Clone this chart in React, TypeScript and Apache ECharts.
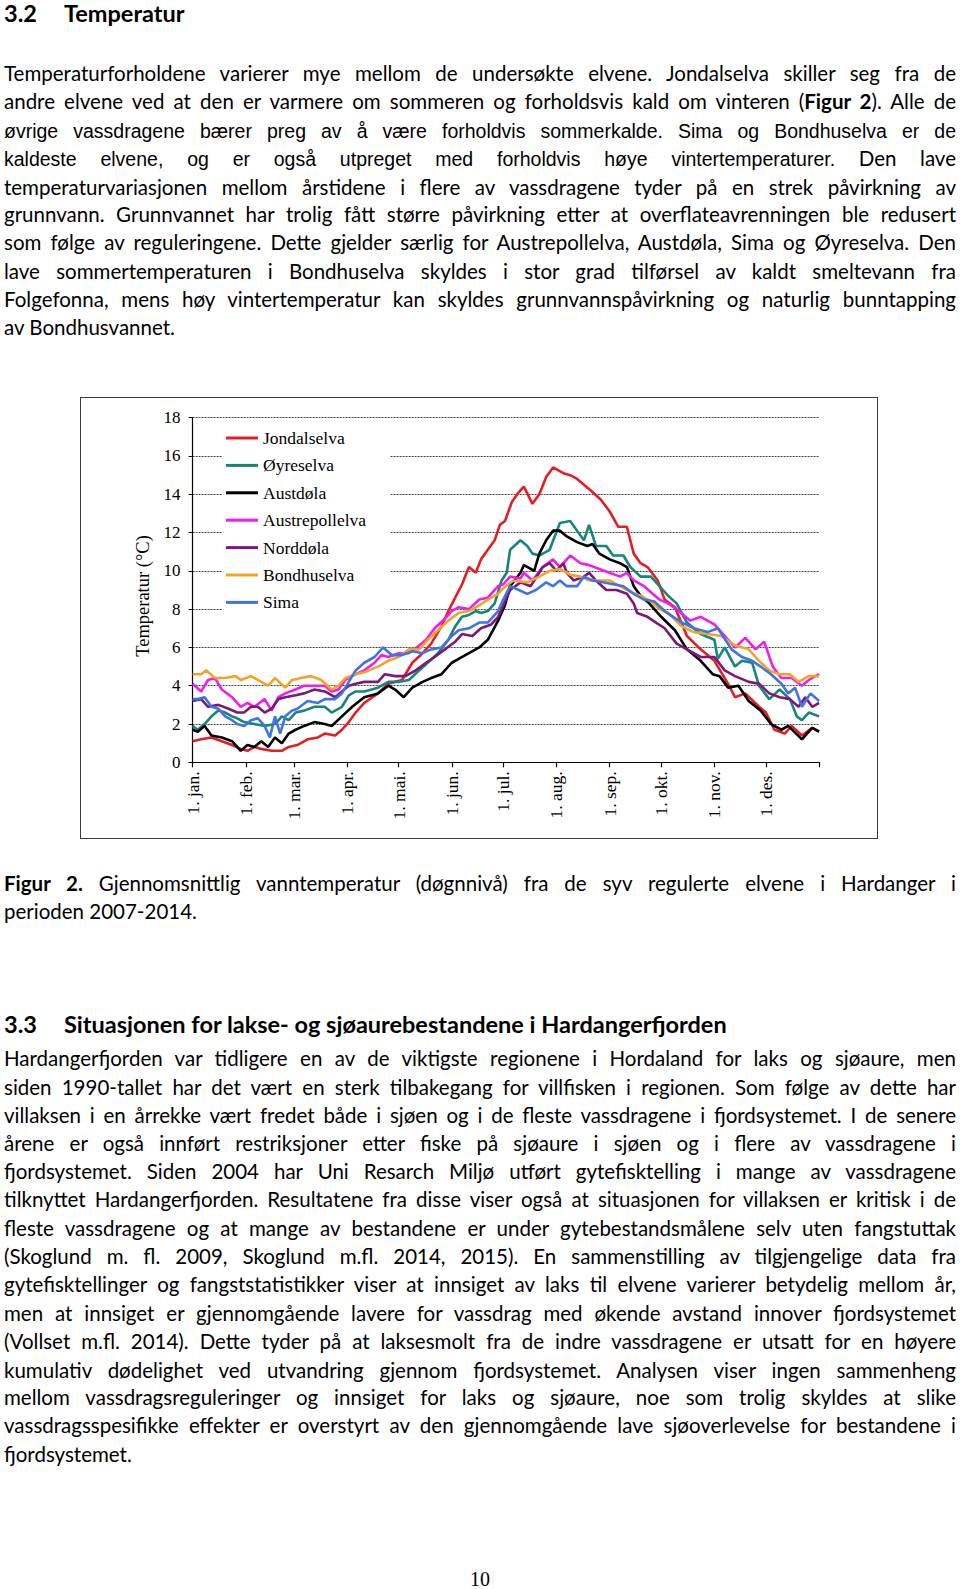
import React, { useEffect, useRef } from "react";
import * as echarts from "echarts";

type P = [number, number];

const seriesNames = ["Jondalselva", "Øyreselva", "Austdøla", "Austrepollelva", "Norddøla", "Bondhuselva", "Sima"];
const seriesColors = ["#E31E24", "#16857A", "#000000", "#F01CF0", "#7D177D", "#F5A323", "#3F73E6"];

const jondalselva: P[] = [[0,1.1],[5,1.2],[11,1.3],[17,1.1],[23,0.9],[28,0.7],[32,0.6],[36,0.8],[40,0.7],[46,0.6],[52,0.6],[56,0.8],[61,0.9],[67,1.2],[73,1.3],[77,1.5],[83,1.4],[87,1.7],[91,2.1],[95,2.6],[100,3.1],[108,3.6],[114,4.1],[122,4.3],[128,5.2],[134,5.7],[139,6.2],[145,7.1],[149,7.9],[153,8.6],[157,9.3],[161,10.2],[165,9.9],[168,10.6],[172,11.1],[176,11.6],[179,12.4],[182,12.6],[186,13.6],[190,14.1],[193,14.4],[198,13.5],[202,14.0],[206,14.9],[210,15.4],[216,15.1],[220,15.0],[224,14.8],[228,14.5],[232,14.2],[238,13.7],[243,13.1],[248,12.3],[253,12.3],[257,10.9],[261,10.4],[265,10.2],[271,9.5],[275,8.5],[281,8.1],[288,6.6],[296,5.9],[304,5.3],[312,4.1],[316,3.4],[322,3.6],[330,2.9],[334,2.6],[339,1.7],[345,1.5],[349,1.9],[355,1.4],[361,1.8],[365,1.6]];

const oyreselva: P[] = [[0,1.9],[3,1.7],[7,2.0],[11,2.4],[15,2.7],[19,2.6],[23,2.4],[26,2.3],[30,2.1],[36,2.0],[42,1.9],[48,2.0],[52,2.4],[56,2.2],[60,2.6],[65,2.7],[71,2.9],[77,2.9],[81,2.6],[87,2.9],[91,3.5],[95,3.7],[100,3.7],[108,3.9],[114,4.2],[120,4.2],[126,4.3],[132,4.8],[137,5.2],[143,5.7],[149,6.4],[153,7.1],[157,7.6],[161,7.7],[165,7.9],[168,7.8],[172,7.9],[176,8.3],[180,9.5],[183,9.9],[185,11.1],[191,11.6],[195,11.3],[198,10.9],[202,10.8],[208,11.1],[214,12.5],[220,12.6],[224,12.1],[228,11.6],[231,12.4],[235,11.3],[241,11.3],[245,10.8],[251,10.8],[255,10.2],[261,9.7],[267,9.7],[272,9.2],[277,8.7],[282,8.3],[288,7.3],[296,6.7],[304,6.4],[306,5.4],[310,6.0],[316,5.0],[320,5.3],[326,5.2],[330,4.0],[336,3.3],[342,3.8],[348,3.3],[352,2.4],[355,2.2],[359,2.6],[365,2.4]];

const austdola: P[] = [[0,1.7],[3,1.6],[7,1.9],[11,1.4],[17,1.3],[23,1.1],[26,0.8],[28,0.6],[32,0.9],[36,0.8],[40,1.1],[44,0.8],[48,1.3],[52,1.0],[56,1.5],[60,1.7],[65,1.9],[71,2.1],[77,2.0],[81,1.9],[87,2.4],[93,2.9],[100,3.4],[108,3.6],[114,4.0],[118,3.8],[123,3.4],[128,3.9],[134,4.2],[139,4.4],[145,4.6],[151,5.2],[155,5.4],[161,5.7],[167,6.0],[172,6.4],[178,7.4],[182,8.2],[185,9.2],[191,9.9],[193,10.3],[197,10.1],[199,10.0],[202,10.9],[206,11.6],[210,12.1],[214,12.1],[218,11.8],[224,11.5],[230,11.3],[233,11.4],[237,10.9],[243,10.6],[249,10.4],[253,10.2],[257,9.2],[261,8.7],[266,8.3],[269,8.0],[273,7.6],[281,6.9],[288,5.9],[296,5.3],[303,4.6],[307,4.5],[312,3.9],[318,4.0],[324,3.2],[331,2.7],[337,2.0],[343,1.7],[347,1.9],[355,1.2],[361,1.8],[365,1.6]];

const austrepollelva: P[] = [[0,4.1],[5,3.7],[9,4.3],[13,4.4],[17,3.8],[23,3.4],[28,2.9],[32,3.1],[36,2.9],[42,3.3],[46,2.7],[50,3.4],[54,3.6],[60,3.8],[65,4.0],[71,4.0],[77,4.0],[81,3.7],[85,3.8],[89,4.3],[95,4.6],[100,4.8],[106,5.2],[110,5.6],[114,5.5],[120,5.7],[126,5.7],[132,6.1],[136,6.4],[141,7.0],[147,7.5],[151,7.9],[155,8.1],[161,8.0],[167,8.5],[172,8.6],[178,9.2],[181,9.3],[185,9.7],[191,9.6],[193,9.9],[198,9.5],[204,10.2],[210,10.6],[214,10.2],[220,10.8],[226,10.4],[231,10.3],[237,10.1],[243,9.9],[249,9.7],[253,9.9],[257,9.5],[263,9.2],[268,8.8],[272,8.5],[277,8.3],[282,8.0],[290,7.4],[296,7.6],[304,7.2],[308,6.8],[316,6.0],[322,6.5],[328,5.9],[333,6.3],[338,5.0],[343,4.4],[349,4.4],[355,4.0],[359,4.3],[365,4.6]];

const norddola: P[] = [[0,3.2],[5,3.3],[9,2.9],[15,3.0],[21,2.8],[26,2.6],[30,2.6],[34,2.9],[38,2.9],[42,2.6],[46,2.8],[50,3.3],[54,3.4],[60,3.5],[65,3.6],[71,3.8],[77,3.7],[83,3.4],[87,3.7],[91,4.0],[95,4.1],[100,4.2],[108,4.2],[112,4.6],[118,4.5],[124,4.5],[130,4.8],[136,5.2],[141,5.5],[147,5.9],[153,6.3],[157,6.7],[163,6.6],[168,7.0],[174,7.2],[178,7.6],[181,8.2],[185,9.0],[191,9.4],[197,9.2],[204,10.2],[208,10.4],[212,10.0],[216,10.4],[218,9.9],[222,9.5],[228,9.7],[231,9.9],[235,9.5],[241,9.0],[247,9.0],[253,8.8],[257,8.3],[259,7.8],[265,7.6],[270,7.3],[275,7.0],[282,6.2],[288,5.9],[296,5.5],[304,5.5],[310,4.8],[316,4.5],[324,4.2],[330,4.1],[336,3.6],[342,3.4],[348,3.3],[353,2.9],[357,3.4],[361,2.9],[365,3.1]];

const bondhuselva: P[] = [[0,4.6],[5,4.6],[8,4.8],[13,4.4],[19,4.4],[25,4.5],[28,4.3],[34,4.5],[38,4.3],[44,4.0],[48,4.4],[54,3.9],[58,4.3],[63,4.4],[69,4.5],[75,4.3],[81,3.8],[85,4.0],[89,4.4],[95,4.6],[100,4.7],[108,5.0],[114,5.3],[120,5.5],[126,5.9],[132,5.9],[137,6.4],[143,6.9],[149,7.4],[155,7.8],[161,7.9],[167,8.2],[172,8.5],[178,8.8],[181,9.1],[187,9.5],[195,9.4],[202,9.7],[208,10.0],[214,10.1],[220,9.8],[226,9.7],[231,9.5],[237,9.5],[243,9.5],[249,9.2],[255,8.9],[261,8.7],[267,8.4],[272,8.0],[277,7.8],[285,7.1],[292,6.8],[300,6.7],[308,6.6],[316,6.1],[324,5.9],[330,5.3],[336,4.8],[342,4.6],[348,4.6],[353,4.2],[359,4.5],[365,4.5]];

const sima: P[] = [[0,3.3],[3,3.3],[7,3.4],[11,2.9],[15,2.8],[19,2.4],[23,2.2],[26,2.0],[30,1.9],[34,2.2],[38,2.3],[42,1.9],[45,1.3],[48,2.4],[51,1.5],[54,2.4],[58,2.7],[61,2.8],[67,3.2],[73,3.1],[77,3.3],[83,3.3],[87,3.6],[91,4.2],[95,4.8],[100,5.2],[106,5.5],[111,6.0],[116,5.6],[122,5.6],[128,5.8],[134,5.7],[139,5.9],[145,6.0],[151,6.6],[155,6.9],[161,7.0],[167,7.3],[172,7.3],[178,7.9],[181,8.5],[185,9.2],[190,9.0],[195,8.8],[200,9.0],[206,9.4],[210,9.2],[214,9.5],[218,9.2],[224,9.2],[228,9.7],[233,9.5],[239,9.4],[245,9.3],[251,9.2],[257,8.8],[263,8.5],[269,8.4],[275,7.9],[285,7.3],[292,7.0],[300,6.8],[306,7.0],[314,5.9],[320,5.5],[326,5.3],[331,5.0],[337,4.6],[343,4.1],[347,3.6],[351,3.9],[355,2.9],[360,3.6],[365,3.2]];

const allSeries = [jondalselva, oyreselva, austdola, austrepollelva, norddola, bondhuselva, sima];

const monthStarts = [0, 31, 59, 90, 120, 151, 181, 212, 243, 273, 304, 334];
const monthLabels = ["1. jan.", "1. feb.", "1. mar.", "1. apr.", "1. mai.", "1. jun.", "1. jul.", "1. aug.", "1. sep.", "1. okt.", "1. nov.", "1. des."];
const yMin = 0;
const yMax = 18;
const yStep = 2;
const yearDays = 365;

const SERIF = "'Liberation Serif', 'Times New Roman', serif";
const SANS = "Lato, 'Noto Sans', sans-serif";
const ARIAL = "'Liberation Sans', Arial, sans-serif";

function Chart() {
  const ref = useRef<HTMLDivElement>(null);
  useEffect(() => {
    if (!ref.current) return;
    const chart = echarts.init(ref.current, null, { renderer: "svg" });
    chart.setOption({
      animation: false,
      backgroundColor: "#ffffff",
      grid: { left: 112.6, right: 58.9, top: 20.7, bottom: 76.7, outerBoundsMode: "none" },
      legend: {
        data: seriesNames,
        orient: "vertical",
        left: 142,
        top: 26,
        icon: "rect",
        itemWidth: 32,
        itemHeight: 3,
        itemGap: 9.4,
        backgroundColor: "#ffffff",
        padding: [6, 24, 16, 4],
        textStyle: { fontFamily: SERIF, fontSize: 17.5, color: "#000", lineHeight: 17 },
      },
      xAxis: {
        type: "value",
        min: 0,
        max: yearDays,
        splitLine: { show: false },
        axisLine: { show: true, onZero: false, lineStyle: { color: "#000", width: 1.2 } },
        axisTick: {
          show: true,
          inside: false,
          length: 5,
          customValues: [...monthStarts, yearDays],
          lineStyle: { color: "#000", width: 1.2 },
        },
        axisLabel: {
          customValues: monthStarts,
          showMinLabel: true,
          rotate: 90,
          margin: 9,
          padding: [8, 0, 0, 0],
          fontFamily: SERIF,
          fontSize: 17.5,
          color: "#000",
          formatter: (v: number) => {
            const i = monthStarts.indexOf(Math.round(v));
            return i >= 0 ? monthLabels[i] : "";
          },
        },
      },
      yAxis: {
        type: "value",
        min: yMin,
        max: yMax,
        interval: yStep,
        name: "Temperatur (°C)",
        nameLocation: "middle",
        nameGap: 25,
        nameTextStyle: { fontFamily: SERIF, fontSize: 18.5, color: "#000", padding: [0, 12, 0, 0] },
        axisLine: { show: true, lineStyle: { color: "#000", width: 1.2 } },
        axisTick: { show: true, length: 4, lineStyle: { color: "#000" } },
        axisLabel: { fontFamily: SERIF, fontSize: 17, color: "#000", margin: 12 },
        splitLine: { show: true, lineStyle: { color: "#444", type: [2, 1], width: 1 } },
      },
      series: allSeries.map((d, i) => ({
        name: seriesNames[i],
        type: "line",
        data: d,
        showSymbol: false,
        symbol: "none",
        color: seriesColors[i],
        lineStyle: { color: seriesColors[i], width: 2.6 },
        z: 2 + i * 0.01,
      })),
    });
    return () => chart.dispose();
  }, []);
  return (
    <>
      <div ref={ref} style={{ position: "absolute", left: 80, top: 397, width: 798, height: 442 }} />
      <div
        style={{
          position: "absolute",
          left: 80,
          top: 397,
          width: 798,
          height: 442,
          border: "1.5px solid #3a3a3a",
          boxSizing: "border-box",
          pointerEvents: "none",
        }}
      />
    </>
  );
}

const lineBase: React.CSSProperties = {
  position: "absolute",
  left: 4,
  width: 952,
  height: 28,
  lineHeight: "28px",
  whiteSpace: "nowrap",
  fontFamily: SANS,
  fontSize: 20.5,
  color: "#000",
};

function Line({ y, children, last, style }: { y: number; children: React.ReactNode; last?: boolean; style?: React.CSSProperties }) {
  return (
    <div
      style={{
        ...lineBase,
        top: y - 14,
        textAlign: last ? "left" : "justify",
        textAlignLast: last ? "left" : "justify",
        ...style,
      }}
    >
      {children}
    </div>
  );
}

const para1: { t: React.ReactNode; last?: boolean }[] = [
  { t: "Temperaturforholdene varierer mye mellom de undersøkte elvene. Jondalselva skiller seg fra de" },
  { t: <>andre elvene ved at den er varmere om sommeren og forholdsvis kald om vinteren (<b>Figur 2</b>). Alle de</> },
  { t: <span style={{ fontFamily: ARIAL, fontSize: 19.5 }}>øvrige vassdragene bærer preg av å være forholdvis sommerkalde. Sima og Bondhuselva er de</span> },
  { t: <><span style={{ fontFamily: ARIAL, fontSize: 19.5 }}>kaldeste elvene, og er også utpreget med forholdvis høye vintertemperaturer.</span> Den lave</> },
  { t: "temperaturvariasjonen mellom årstidene i flere av vassdragene tyder på en strek påvirkning av" },
  { t: "grunnvann. Grunnvannet har trolig fått større påvirkning etter at overflateavrenningen ble redusert" },
  { t: "som følge av reguleringene. Dette gjelder særlig for Austrepollelva, Austdøla, Sima og Øyreselva. Den" },
  { t: "lave sommertemperaturen i Bondhuselva skyldes i stor grad tilførsel av kaldt smeltevann fra" },
  { t: "Folgefonna, mens høy vintertemperatur kan skyldes grunnvannspåvirkning og naturlig bunntapping" },
  { t: "av Bondhusvannet.", last: true },
];
const para1Y = [73, 101.4, 129.8, 158.1, 186.5, 213.9, 242.3, 270.7, 299, 327.4];

const para2: { t: React.ReactNode; last?: boolean }[] = [
  { t: "Hardangerfjorden var tidligere en av de viktigste regionene i Hordaland for laks og sjøaure, men" },
  { t: "siden 1990-tallet har det vært en sterk tilbakegang for villfisken i regionen. Som følge av dette har" },
  { t: "villaksen i en årrekke vært fredet både i sjøen og i de fleste vassdragene i fjordsystemet. I de senere" },
  { t: "årene er også innført restriksjoner etter fiske på sjøaure i sjøen og i flere av vassdragene i" },
  { t: "fjordsystemet. Siden 2004 har Uni Resarch Miljø utført gytefisktelling i mange av vassdragene" },
  { t: "tilknyttet Hardangerfjorden. Resultatene fra disse viser også at situasjonen for villaksen er kritisk i de" },
  { t: "fleste vassdragene og at mange av bestandene er under gytebestandsmålene selv uten fangstuttak" },
  { t: "(Skoglund m. fl. 2009, Skoglund m.fl. 2014, 2015). En sammenstilling av tilgjengelige data fra" },
  { t: "gytefisktellinger og fangststatistikker viser at innsiget av laks til elvene varierer betydelig mellom år," },
  { t: "men at innsiget er gjennomgående lavere for vassdrag med økende avstand innover fjordsystemet" },
  { t: "(Vollset m.fl. 2014). Dette tyder på at laksesmolt fra de indre vassdragene er utsatt for en høyere" },
  { t: "kumulativ dødelighet ved utvandring gjennom fjordsystemet. Analysen viser ingen sammenheng" },
  { t: "mellom vassdragsreguleringer og innsiget for laks og sjøaure, noe som trolig skyldes at slike" },
  { t: "vassdragsspesifikke effekter er overstyrt av den gjennomgående lave sjøoverlevelse for bestandene i" },
  { t: "fjordsystemet.", last: true },
];
const para2Y = [1058.3, 1086.7, 1115, 1143.4, 1170.8, 1199.2, 1227.6, 1256, 1284.4, 1312.7, 1341.1, 1369.5, 1396.9, 1425.3, 1453.7];

function Heading({ y, num, title }: { y: number; num: string; title: string }) {
  const s: React.CSSProperties = {
    position: "absolute",
    top: y - 12,
    height: 26,
    lineHeight: "26px",
    fontFamily: SANS,
    fontWeight: 700,
    fontSize: 23.5,
    whiteSpace: "nowrap",
    color: "#000",
  };
  return (
    <>
      <div style={{ ...s, left: 4 }}>{num}</div>
      <div style={{ ...s, left: 64 }}>{title}</div>
    </>
  );
}

export default function App() {
  return (
    <div style={{ position: "relative", width: 960, height: 1589, background: "#fff", overflow: "hidden" }}>
      <style>{`body{margin:0;background:#fff}`}</style>
      <Heading y={12} num="3.2" title="Temperatur" />
      {para1.map((l, i) => (
        <Line key={"a" + i} y={para1Y[i]} last={l.last}>
          {l.t}
        </Line>
      ))}
      <Chart />
      <Line y={883}>
        <b>Figur 2.</b> Gjennomsnittlig vanntemperatur (døgnnivå) fra de syv regulerte elvene i Hardanger i
      </Line>
      <Line y={910.5} last>
        perioden 2007-2014.
      </Line>
      <Heading y={1023} num="3.3" title="Situasjonen for lakse- og sjøaurebestandene i Hardangerfjorden" />
      {para2.map((l, i) => (
        <Line key={"b" + i} y={para2Y[i]} last={l.last}>
          {l.t}
        </Line>
      ))}
      <div
        style={{
          position: "absolute",
          left: 0,
          width: 960,
          top: 1567,
          height: 24,
          lineHeight: "24px",
          textAlign: "center",
          fontFamily: SERIF,
          fontSize: 20,
          color: "#000",
        }}
      >
        10
      </div>
    </div>
  );
}
